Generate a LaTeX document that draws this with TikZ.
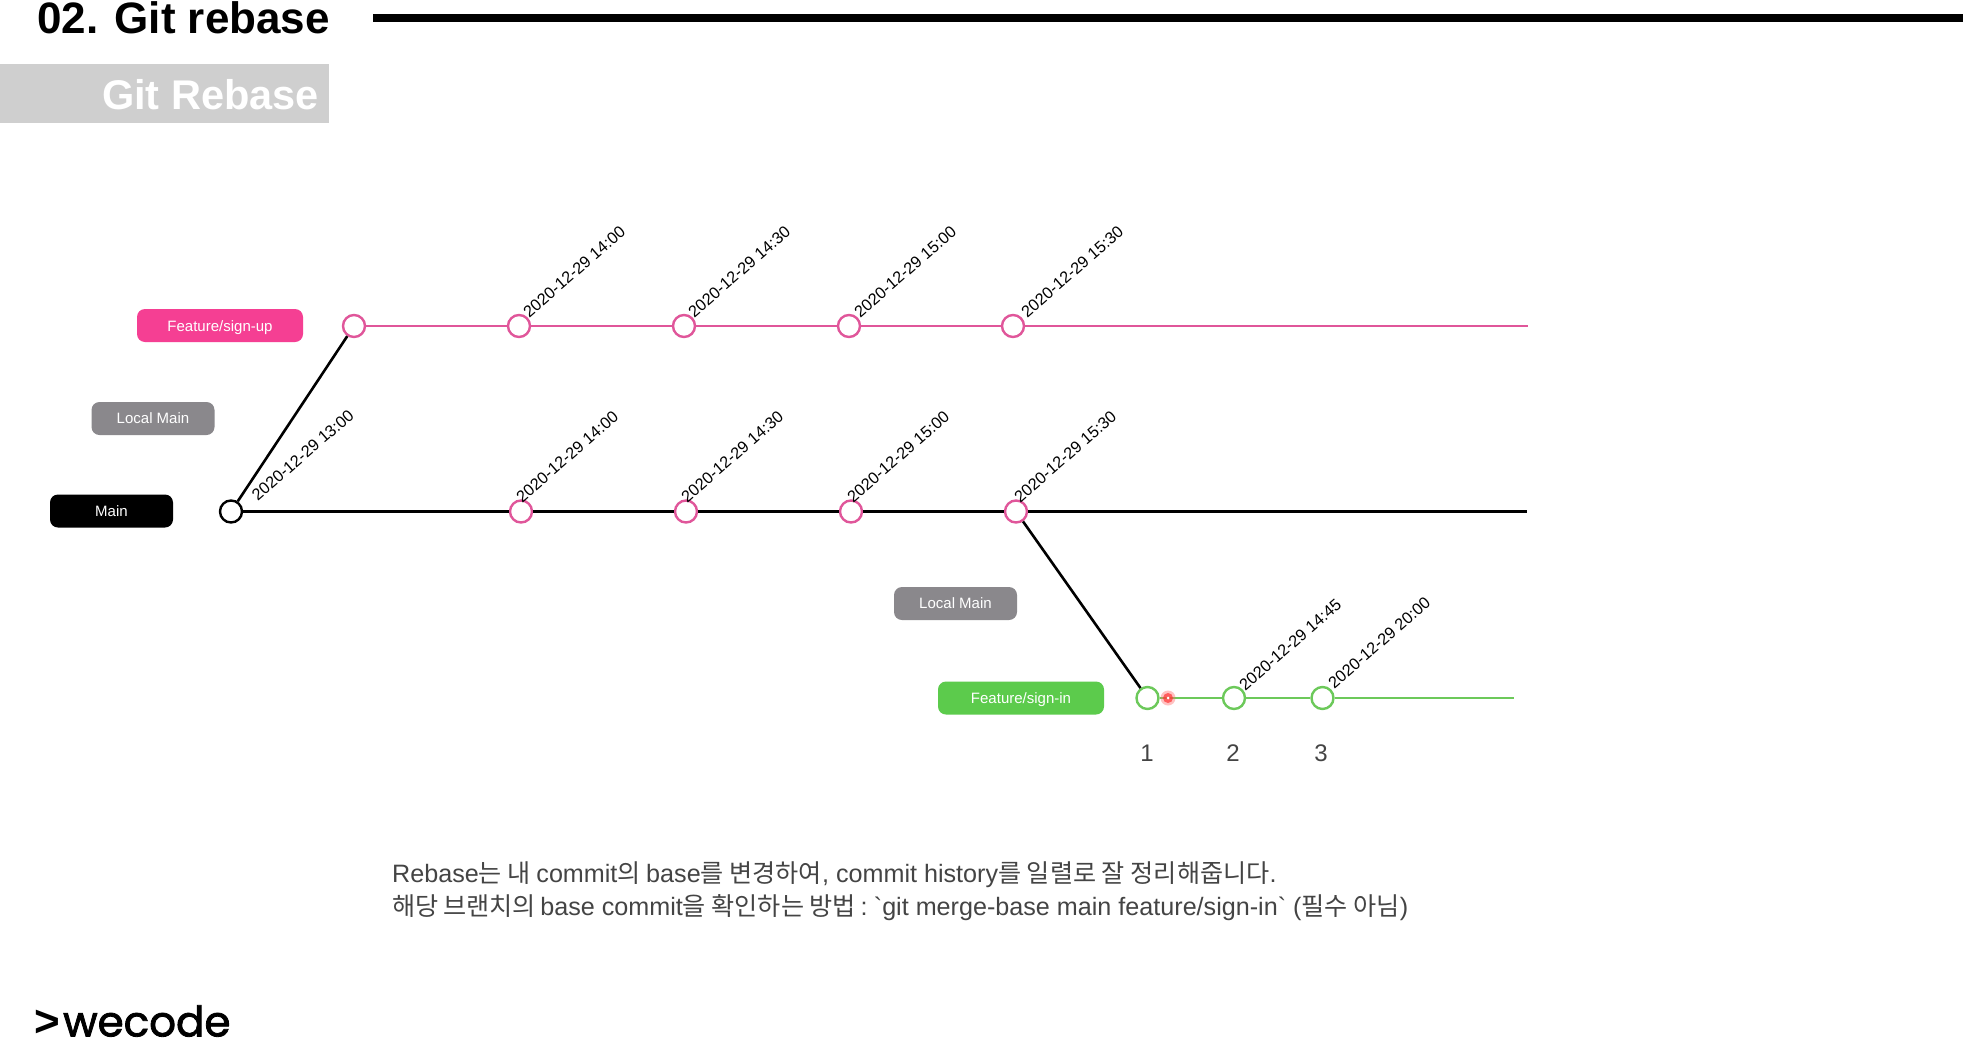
\documentclass[tikz,border=0pt]{standalone}
\usepackage{fontspec}
\setmainfont{Liberation Sans}
\newfontfamily\kr{Noto Sans CJK KR}
\newfontfamily\plainf{Liberation Sans}
\newfontfamily\logofont[FakeBold=2]{Poppins}
\definecolor{pinkc}{HTML}{E0569A}
\definecolor{pinkfill}{HTML}{F53F93}
\definecolor{greenc}{HTML}{6CC95A}
\definecolor{greenfill}{HTML}{5CCB4C}
\definecolor{greyfill}{HTML}{8A888C}
\definecolor{bodytext}{HTML}{444444}
\definecolor{banner}{HTML}{CFCFCF}
\newcommand{\fs}[1]{\fontsize{#1}{#1}\selectfont}
\tikzset{
  commit/.style={circle,draw=#1,fill=white,line width=2.4pt,minimum size=22pt,inner sep=0pt},
  pill/.style={rounded corners=8pt,fill=#1,text=white,inner sep=0pt,font=\fs{15}},
  datelabel/.style={rotate=41,anchor=west,inner sep=0pt,font=\fs{16.3},text=black},
  branchline/.style={line width=2.6pt,draw=#1},
  numlabel/.style={font=\fs{24},text=bodytext,inner sep=0pt},
  bodyline/.style={anchor=west,inner sep=0pt,font=\fs{25.15},text=bodytext}
}
\begin{document}
\begin{tikzpicture}[x=1pt,y=-1pt]
\useasboundingbox[fill=white] (0,0) rectangle (1988,1060);
% header
\node[anchor=west,inner sep=0pt,font=\bfseries\fs{44}] (title) at (37,18) {02. Git rebase};
\coordinate (ruleA) at (373,17.5);
\coordinate (ruleB) at (1963,17.5);
\draw[line width=8pt] (ruleA) -- (ruleB);
\fill[banner] (0,64) rectangle (329,123);
\node[anchor=east,inner sep=0pt,text=white,font=\bfseries\fs{41.5}] (sub) at (319,95) {Git Rebase};
% pills
\node[pill=pinkfill,minimum width=166pt,minimum height=33pt,text depth=0pt] (fup) at (220,325.5) {\raisebox{-1pt}{Feature/sign-up}};
\node[pill=greyfill,minimum width=123pt,minimum height=33pt] (lm1) at (153,418.5) {Local Main};
\node[pill=black,minimum width=123pt,minimum height=33pt] (mainp) at (111.5,511) {Main};
\node[pill=greyfill,minimum width=123pt,minimum height=33pt] (lm2) at (955.5,603.5) {Local Main};
\node[pill=greenfill,minimum width=166pt,minimum height=33pt,text depth=0pt] (fin) at (1021,698) {\raisebox{-1pt}{Feature/sign-in}};
% end points
\coordinate (pinkend) at (1528,326);
\coordinate (blackend) at (1527,511.5);
\coordinate (greenend) at (1514,698);
% commits
\node[commit=black] (m0) at (231,511.5) {};
\node[commit=pinkc] (p0) at (354,326) {};
\node[commit=pinkc] (p1) at (519,326) {};
\node[commit=pinkc] (p2) at (684,326) {};
\node[commit=pinkc] (p3) at (849,326) {};
\node[commit=pinkc] (p4) at (1013,326) {};
\node[commit=pinkc] (m1) at (521,511.5) {};
\node[commit=pinkc] (m2) at (686,511.5) {};
\node[commit=pinkc] (m3) at (851,511.5) {};
\node[commit=pinkc] (m4) at (1016,511.5) {};
\node[commit=greenc] (g1) at (1147.5,698) {};
\node[commit=greenc] (g2) at (1234,698) {};
\node[commit=greenc] (g3) at (1322.5,698) {};
% connectors
\draw[branchline=pinkc] (p0) -- (p1);
\draw[branchline=pinkc] (p1) -- (p2);
\draw[branchline=pinkc] (p2) -- (p3);
\draw[branchline=pinkc] (p3) -- (p4);
\draw[branchline=pinkc] (p4) -- (pinkend);
\draw[branchline=black] (m0) -- (m1);
\draw[branchline=black] (m1) -- (m2);
\draw[branchline=black] (m2) -- (m3);
\draw[branchline=black] (m3) -- (m4);
\draw[branchline=black] (m4) -- (blackend);
\draw[branchline=black] (m0) -- (p0);
\draw[branchline=black] (m4) -- (g1);
\draw[branchline=greenc] (g1) -- (g2);
\draw[branchline=greenc] (g2) -- (g3);
\draw[branchline=greenc] (g3) -- (greenend);
% cursor dot
\fill[red!60!white,opacity=.4] (1168,698) circle (7.5pt);
\fill[red!80!white,opacity=.7] (1168,698) circle (5pt);
\node[circle,fill=white,minimum size=3pt,inner sep=0pt] (cursor) at (1168,698) {};
% dates
\node[datelabel] (d0) at (254,497.5) {2020-12-29 13:00};
\node[datelabel] (d1) at (525.5,314) {2020-12-29 14:00};
\node[datelabel] (d2) at (690.5,314) {2020-12-29 14:30};
\node[datelabel] (d3) at (856.5,314) {2020-12-29 15:00};
\node[datelabel] (d4) at (1023.5,314) {2020-12-29 15:30};
\node[datelabel] (d5) at (518.5,499) {2020-12-29 14:00};
\node[datelabel] (d6) at (683.5,499) {2020-12-29 14:30};
\node[datelabel] (d7) at (849.5,499) {2020-12-29 15:00};
\node[datelabel] (d8) at (1016.5,499) {2020-12-29 15:30};
\node[datelabel] (d9) at (1241.5,687) {2020-12-29 14:45};
\node[datelabel] (d10) at (1330.5,685) {2020-12-29 20:00};
% numbers
\node[numlabel] (n1) at (1147,753) {1};
\node[numlabel] (n2) at (1233,753) {2};
\node[numlabel] (n3) at (1321,753) {3};
% body
\node[bodyline] (t1) at (392,874.5) {Rebase{\kr 는 내 }commit{\kr 의 }base{\kr 를 변경하여}, commit history{\kr 를 일렬로 잘 정리해줍니다}.};
\node[bodyline] (t2) at (392,907.5) {{\kr 해당 }\hspace{-1pt}{\kr 브랜치의 }\hspace{-1pt}base commit{\kr 을 확인하는 방법}\hspace{-2.5pt} :\hspace{-3pt} {\plainf`}git merge-base main feature/sign-in{\plainf`} ({\kr 필수 아님})};
% logo
\node[anchor=west,inner sep=0pt,font=\plainf\bfseries\fs{44}] (logoa) at (34,1023) {>};
\node[anchor=west,inner sep=0pt,font=\logofont\fs{42}] (logo) at (63,1021) {wecode};
\end{tikzpicture}
\end{document}
